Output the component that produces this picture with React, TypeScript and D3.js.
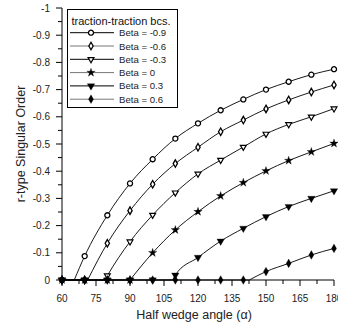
import React from "react";
import * as d3 from "d3";

const X_VALUES = [60, 70, 80, 90, 100, 110, 120, 130, 140, 150, 160, 170, 180];
const BETA_LABELS = ["Beta = -0.9", "Beta = -0.6", "Beta = -0.3", "Beta = 0", "Beta = 0.3", "Beta = 0.6"];
const S_BETA_M09 = [0, -0.088, -0.238, -0.355, -0.444, -0.52, -0.576, -0.624, -0.664, -0.7, -0.729, -0.755, -0.775];
const S_BETA_M06 = [0, 0, -0.135, -0.255, -0.352, -0.428, -0.488, -0.545, -0.588, -0.629, -0.662, -0.691, -0.717];
const S_BETA_M03 = [0, 0, -0.016, -0.141, -0.239, -0.321, -0.39, -0.441, -0.489, -0.537, -0.572, -0.6, -0.63];
const S_BETA_0 = [0, 0, 0, 0, -0.1, -0.184, -0.251, -0.309, -0.358, -0.401, -0.439, -0.471, -0.502];
const S_BETA_03 = [0, 0, 0, 0, 0, -0.018, -0.083, -0.143, -0.19, -0.233, -0.27, -0.3, -0.328];
const S_BETA_06 = [0, 0, 0, 0, 0, 0, 0, 0, 0, -0.031, -0.061, -0.092, -0.116];
const CROSSINGS = [65.4, 71.3, 78.9, 90, 108.8, 142.6];
const X_MAJOR_TICKS = [60, 75, 90, 105, 120, 135, 150, 165, 180];
const X_MINOR_TICKS = [67.5, 82.5, 97.5, 112.5, 127.5, 142.5, 157.5, 172.5];
const Y_MAJOR_TICKS = [0, -0.1, -0.2, -0.3, -0.4, -0.5, -0.6, -0.7, -0.8, -0.9, -1];
const Y_MINOR_TICKS = [-0.05, -0.15, -0.25, -0.35, -0.45, -0.55, -0.65, -0.75, -0.85, -0.95];
const Y_TICK_LABELS = ["0", "-0.1", "-0.2", "-0.3", "-0.4", "-0.5", "-0.6", "-0.7", "-0.8", "-0.9", "-1"];

const ALL_SERIES = [S_BETA_M09, S_BETA_M06, S_BETA_M03, S_BETA_0, S_BETA_03, S_BETA_06];

type MarkerKind = "circleOpen" | "diamondOpen" | "triDownOpen" | "star" | "triDownFilled" | "diamondFilled";
const MARKERS: MarkerKind[] = ["circleOpen", "diamondOpen", "triDownOpen", "star", "triDownFilled", "diamondFilled"];

const FONT = "'Liberation Sans', Arial, sans-serif";

function Marker({ kind, cx, cy }: { kind: MarkerKind; cx: number; cy: number }) {
  let path = "";
  let rot = 0;
  let fill = "#000";
  let sw = 0;
  switch (kind) {
    case "circleOpen":
      path = d3.symbol(d3.symbolCircle, 20)() || "";
      fill = "#fff";
      sw = 1.3;
      break;
    case "diamondOpen":
      path = d3.symbol(d3.symbolDiamond, 16)() || "";
      fill = "#fff";
      sw = 1.3;
      break;
    case "triDownOpen":
      path = d3.symbol(d3.symbolTriangle, 15)() || "";
      rot = 180;
      fill = "#fff";
      sw = 1.2;
      break;
    case "star":
      path = d3.symbol(d3.symbolStar, 22)() || "";
      sw = 0.3;
      break;
    case "triDownFilled":
      path = d3.symbol(d3.symbolTriangle, 24)() || "";
      rot = 180;
      sw = 0.3;
      break;
    case "diamondFilled":
      path = d3.symbol(d3.symbolDiamond, 22)() || "";
      sw = 0.3;
      break;
  }
  return (
    <path
      d={path}
      transform={`translate(${cx},${cy}) rotate(${rot})`}
      fill={fill}
      stroke="#000"
      strokeWidth={sw}
    />
  );
}

export default function App() {
  const x = d3.scaleLinear().domain([60, 180]).range([62, 334]);
  const y = d3.scaleLinear().domain([-1, 0]).range([8, 280]);

  const flatLine = d3.line<[number, number]>().x((d) => x(d[0])).y((d) => y(d[1]));
  const curveLine = d3
    .line<[number, number]>()
    .x((d) => x(d[0]))
    .y((d) => y(d[1]))
    .curve(d3.curveMonotoneX);

  const legendX0 = 70;
  const legendX1 = 114;
  const legendRowY = (i: number) => 32.7 + i * 13.3;

  return (
    <svg
      width={338}
      height={326}
      style={{ position: "absolute", left: 0, top: 0, background: "#fff" }}
      fontFamily={FONT}
    >
      <rect x={0} y={0} width={338} height={326} fill="#fff" />

      {ALL_SERIES.map((vals, si) => {
        const c = CROSSINGS[si];
        const flatPts: [number, number][] = [[60, 0], [c, 0]];
        const risePts: [number, number][] = [[c, 0]];
        X_VALUES.forEach((xv, i) => {
          if (xv > c) risePts.push([xv, vals[i]]);
        });
        return (
          <g key={"l" + si}>
            <path d={flatLine(flatPts) || ""} fill="none" stroke="#000" strokeWidth={0.9} />
            <path d={curveLine(risePts) || ""} fill="none" stroke="#000" strokeWidth={0.9} />
          </g>
        );
      })}

      <line x1={x(60)} x2={x(180)} y1={y(0)} y2={y(0)} stroke="#000" strokeWidth={1} />
      <line x1={x(60)} x2={x(60)} y1={y(-1)} y2={y(0)} stroke="#000" strokeWidth={1} />
      {X_MAJOR_TICKS.map((t) => (
        <g key={"xt" + t}>
          <line x1={x(t)} x2={x(t)} y1={y(0)} y2={y(0) + 6} stroke="#000" />
          <text x={x(t)} y={302} fontSize={10} textAnchor="middle" fill="#222">
            {t}
          </text>
        </g>
      ))}
      {X_MINOR_TICKS.map((t) => (
        <line key={"xm" + t} x1={x(t)} x2={x(t)} y1={y(0)} y2={y(0) + 4} stroke="#000" />
      ))}
      {Y_MAJOR_TICKS.map((t, i) => (
        <g key={"yt" + t}>
          <line x1={x(60) - 6} x2={x(60)} y1={y(t)} y2={y(t)} stroke="#000" />
          <text x={50} y={y(t) + 3.6} fontSize={10} textAnchor="end" fill="#222">
            {Y_TICK_LABELS[i]}
          </text>
        </g>
      ))}
      {Y_MINOR_TICKS.map((t) => (
        <line key={"ym" + t} x1={x(60) - 4} x2={x(60)} y1={y(t)} y2={y(t)} stroke="#000" />
      ))}

      {ALL_SERIES.map((vals, si) => (
        <g key={"m" + si}>
          {X_VALUES.map((xv, i) => (
            <Marker key={i} kind={MARKERS[si]} cx={x(xv)} cy={y(vals[i])} />
          ))}
        </g>
      ))}

      <text x={194} y={319} fontSize={12.5} textAnchor="middle" fill="#222">
        Half wedge angle (α)
      </text>
      <text
        transform={`translate(25,${(y(-1) + y(0)) / 2}) rotate(-90)`}
        fontSize={12.5}
        textAnchor="middle"
        fill="#222"
      >
        r-type Singular Order
      </text>

      <rect x={67.5} y={9.5} width={110} height={98} fill="#fff" stroke="#000" strokeWidth={1} />
      <text x={71.5} y={24.5} fontSize={11} fill="#111">
        traction-traction bcs.
      </text>
      {BETA_LABELS.map((lab, i) => (
        <g key={"lg" + i}>
          <line
            x1={legendX0}
            x2={legendX1}
            y1={legendRowY(i)}
            y2={legendRowY(i)}
            stroke={i % 2 === 1 ? "#777" : "#000"}
            strokeWidth={1}
          />
          <Marker kind={MARKERS[i]} cx={(legendX0 + legendX1) / 2 - 1} cy={legendRowY(i)} />
          <text x={119} y={legendRowY(i) + 3.5} fontSize={9.6} fill="#222">
            {lab}
          </text>
        </g>
      ))}
    </svg>
  );
}
